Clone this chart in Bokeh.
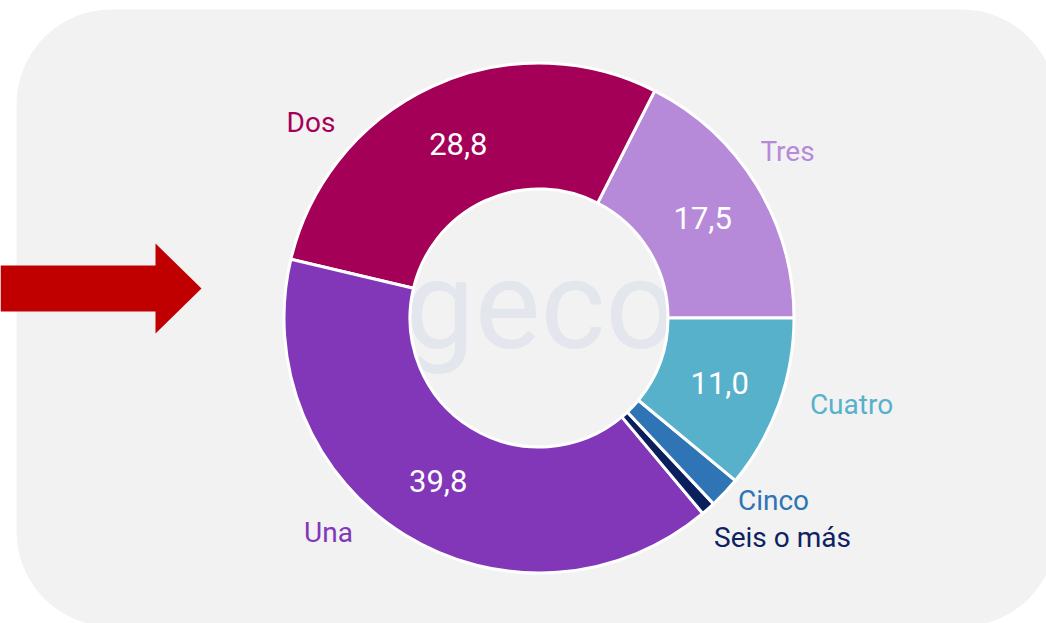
import math
from bokeh.plotting import figure
from bokeh.models import ColumnDataSource, Range1d
from bokeh.core.properties import value
from bokeh.embed import file_html
from bokeh.resources import INLINE

# ---- data (counter-clockwise from 3 o'clock) ----
categories = ["Tres", "Dos", "Una", "Seis o más", "Cinco", "Cuatro"]
percent = [17.5, 28.8, 39.8, 0.9, 2.0, 11.0]
value_labels = ["17,5", "28,8", "39,8", "", "", "11,0"]
slice_colors = ["#b78ad9", "#a50057", "#8237b9", "#0b1f5c", "#2f74b5", "#57b1cb"]
label_colors = ["#b78ad9", "#a50057", "#8237b9", "#0e2160", "#2f74b5", "#57b1cb"]

# ---- layout (screen pixels; data y = 623 - screen y) ----
W, H = 1046, 623
def sy(y):
    return H - y

cx, cy = 538.5, sy(317.5)
r_in, r_out = 129, 255
# category label centres (screen px)
label_pos = [(787, 151), (310.5, 121.5), (328, 532), (782, 537), (773, 500), (851, 404)]

total = sum(percent)
starts, ends, mids = [], [], []
acc = 0.0
for v in percent:
    a0 = 2 * math.pi * acc / total
    acc += v
    a1 = 2 * math.pi * acc / total
    starts.append(a0)
    ends.append(a1)
    mids.append((a0 + a1) / 2)

r_mid = (r_in + r_out) / 2
vx = [cx + r_mid * math.cos(m) for m in mids]
vy = [cy + r_mid * math.sin(m) for m in mids]

src = ColumnDataSource(dict(
    cat=categories, pct=percent, start=starts, end=ends, color=slice_colors,
    vlab=value_labels, vx=vx, vy=vy,
    lx=[p[0] for p in label_pos], ly=[sy(p[1]) for p in label_pos], lcolor=label_colors,
))

p = figure(width=W, height=H, output_backend="svg", toolbar_location=None,
           x_range=Range1d(0, W), y_range=Range1d(0, H),
           min_border=0, x_axis_location=None, y_axis_location=None,
           background_fill_color="white", border_fill_color="white")
p.outline_line_color = None
p.grid.visible = False

# rounded background panel
p.quad(left=[16], right=[1056], top=[sy(9)], bottom=[sy(626)],
       fill_color="#f2f2f2", line_color=None, border_radius=95)

# red arrow
ax = [0, 155, 155, 201, 155, 155, 0]
ay = [265, 265, 243, 288, 333, 311, 311]
p.patch(ax, [sy(y) for y in ay], fill_color="#c00000", line_color=None)

# watermark
p.text(x=[540], y=[sy(305)], text=["geco"], text_font=value("Roboto"), text_font_size="124px",
       text_color="#e3e6ed", text_align="center", text_baseline="middle")

# donut
p.annular_wedge(x=cx, y=cy, inner_radius=r_in, outer_radius=r_out,
                start_angle="start", end_angle="end", fill_color="color",
                line_color="white", line_width=3, source=src)

# value labels
p.text(x="vx", y="vy", text="vlab", source=src, text_font=value("Roboto"),
       text_font_size="31px", text_color="white", text_align="center", text_baseline="middle")

# category labels
p.text(x="lx", y="ly", text="cat", source=src, text_font=value("Roboto"),
       text_font_size="28px", text_color="lcolor", text_align="center", text_baseline="middle")

open("out.html", "w").write(file_html(p, INLINE))
